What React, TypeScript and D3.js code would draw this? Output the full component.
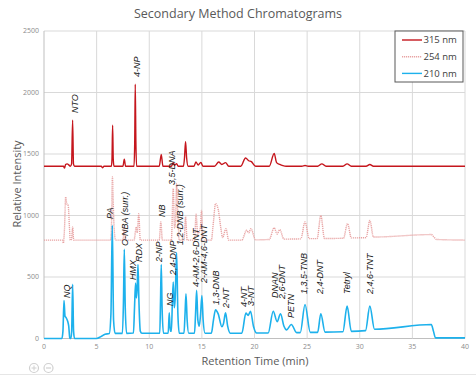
import React from "react";
import * as d3 from "d3";

const chartTitle = "Secondary Method Chromatograms";
const xTitle = "Retention Time (min)";
const yTitle = "Relative Intensity";
const seriesNames = ["315 nm", "254 nm", "210 nm"];
const xTicks = [0, 5, 10, 15, 20, 25, 30, 35, 40];
const yTicks = [0, 500, 1000, 1500, 2000, 2500];

// 315 nm trace: [time (min), intensity]
const trace315: [number, number][] = [
  [0, 1400], [1.85, 1400], [1.95, 1385], [2.05, 1415], [2.2, 1420], [2.35, 1412], [2.5, 1400],
  [2.62, 1420], [2.72, 1775], [2.8, 1420], [2.9, 1400], [5.45, 1400], [5.55, 1388], [5.7, 1400],
  [6.4, 1400], [6.46, 1460], [6.52, 1734], [6.58, 1460], [6.65, 1400], [7.5, 1400], [7.63, 1458],
  [7.75, 1400], [8.55, 1400], [8.62, 1600], [8.67, 2068], [8.73, 1600], [8.8, 1400], [10.95, 1400],
  [11.14, 1496], [11.3, 1400], [12.1, 1400], [12.28, 1430], [12.42, 1408], [12.6, 1422], [12.75, 1400],
  [13.25, 1400], [13.35, 1470], [13.45, 1600], [13.55, 1470], [13.7, 1400], [14.25, 1400],
  [14.43, 1435], [14.65, 1410], [14.9, 1432], [15.1, 1400], [16.2, 1400], [16.6, 1435], [16.9, 1415],
  [17.25, 1430], [17.55, 1400], [18.7, 1400], [19.15, 1468], [19.45, 1445], [19.7, 1438], [20.1, 1400],
  [21.4, 1400], [21.87, 1504], [22.1, 1430], [22.4, 1415], [22.7, 1405], [23.0, 1400], [24.5, 1400],
  [24.8, 1406], [25.1, 1400], [26.0, 1400], [26.4, 1420], [26.8, 1400], [28.4, 1400], [28.8, 1420],
  [29.2, 1400], [30.6, 1400], [30.96, 1415], [31.3, 1400], [40, 1400],
];

// 254 nm trace
const trace254: [number, number][] = [
  [0, 800], [1.75, 800], [1.84, 776], [1.95, 900], [2.06, 1150], [2.15, 1100], [2.3, 1080],
  [2.42, 900], [2.5, 800], [2.62, 810], [2.72, 907], [2.82, 800], [6.35, 800], [6.42, 950],
  [6.5, 1314], [6.58, 1100], [6.66, 900], [6.8, 800], [7.5, 800], [7.63, 907], [7.75, 800],
  [8.55, 800], [8.77, 907], [8.86, 860], [9.0, 1015], [9.15, 800], [10.95, 800], [11.1, 948],
  [11.25, 800], [12.1, 800], [12.28, 1219], [12.4, 900], [12.5, 950], [12.6, 1260], [12.72, 1000],
  [12.85, 800], [13.3, 800], [13.45, 990], [13.6, 800], [14.3, 800], [14.45, 1010], [14.6, 850],
  [14.85, 900], [14.97, 1042], [15.1, 800], [15.9, 800], [16.1, 950], [16.3, 1097], [16.55, 1050],
  [16.8, 900], [16.97, 820], [17.28, 893], [17.55, 800], [18.8, 800], [19.25, 880], [19.45, 860],
  [19.66, 893], [20.1, 802], [21.4, 805], [21.87, 900], [22.15, 850], [22.4, 885], [22.8, 808],
  [24.4, 810], [24.8, 948], [25.2, 812], [25.95, 812], [26.3, 1000], [26.65, 813], [28.45, 815],
  [28.84, 935], [29.2, 818], [30.6, 820], [30.96, 960], [31.3, 825], [36.8, 845], [37.0, 830],
  [37.3, 805], [40, 800],
];

// 210 nm trace
const trace210: [number, number][] = [
  [0, 0], [1.7, 0], [1.8, 60], [1.9, 309], [2.0, 180], [2.1, 170], [2.25, 140], [2.35, 100],
  [2.45, 5], [2.55, 0], [2.63, 60], [2.72, 440], [2.81, 60], [2.9, 0], [5.0, 0], [5.4, 15],
  [5.8, 35], [6.2, 40], [6.36, 200], [6.49, 920], [6.61, 150], [6.75, 42], [7.45, 42], [7.55, 300],
  [7.63, 725], [7.72, 250], [7.85, 42], [8.5, 45], [8.6, 250], [8.7, 450], [8.78, 330], [8.85, 400],
  [8.93, 602], [9.02, 300], [9.15, 60], [9.3, 43], [11.0, 43], [11.07, 300], [11.14, 602],
  [11.22, 250], [11.35, 43], [11.8, 43], [11.9, 209], [12.0, 60], [12.1, 60], [12.2, 300],
  [12.28, 459], [12.38, 250], [12.46, 320], [12.6, 698], [12.72, 200], [12.85, 43], [13.3, 43],
  [13.4, 200], [13.49, 364], [13.6, 150], [13.75, 43], [14.3, 43], [14.4, 200], [14.5, 391],
  [14.62, 150], [14.75, 100], [14.88, 200], [15.0, 350], [15.12, 150], [15.3, 43], [15.9, 43],
  [16.1, 150], [16.3, 233], [16.55, 200], [16.9, 96], [17.05, 120], [17.25, 209], [17.45, 100],
  [17.7, 43], [18.8, 44], [19.18, 206], [19.4, 188], [19.62, 222], [19.9, 100], [20.2, 45],
  [21.3, 45], [21.78, 222], [22.15, 137], [22.47, 201], [22.8, 100], [23.05, 70], [23.5, 114],
  [24.0, 48], [24.35, 48], [24.8, 277], [25.3, 50], [26.0, 50], [26.3, 201], [26.7, 52], [28.4, 55],
  [28.8, 263], [29.2, 58], [30.55, 64], [30.96, 263], [31.4, 75], [36.8, 114], [37.0, 60],
  [37.2, 5], [40, 5],
];

// Peak annotations
const peakNames = [
  "NQ", "NTO", "PA", "O-NBA (surr.)", "HMX", "RDX", "4-NP", "NB", "2-NP", "NG", "3,5-DNA",
  "2,4-DNP", "1,2-DNB (surr.)", "4-AM-2,6-DNT", "2-AM-4,6-DNT", "1,3-DNB", "2-NT", "4-NT",
  "3-NT", "DNAN", "2,6-DNT", "PETN", "1,3,5-TNB", "2,4-DNT", "Tetryl", "2,4,6-TNT",
];
const peakTimes = [
  2.18, 2.94, 6.27, 7.69, 8.45, 9.05, 8.83, 11.2, 10.92, 11.92, 12.16, 12.25, 12.95, 14.42,
  15.17, 16.33, 17.3, 19.02, 19.66, 21.92, 22.62, 23.46, 24.69, 26.21, 28.77, 30.96,
];
const peakLevels = [
  329, 1833, 972, 752, 476, 622, 2126, 988, 622, 264, 1248, 516, 760, 419, 451, 272, 248, 256,
  264, 329, 321, 167, 362, 362, 362, 362,
];

const colors = ["#c5161d", "#e8a3a3", "#1db1ec"];

export default function App() {
  const W = 476;
  const H = 376;
  const x = d3.scaleLinear().domain([0, 40]).range([44, 465]);
  const y = d3.scaleLinear().domain([0, 2500]).range([338.5, 31]);
  const line = d3
    .line<[number, number]>()
    .x((d) => x(d[0]))
    .y((d) => y(d[1]))
    .curve(d3.curveMonotoneX);
  const grid = "#d9d9d9";
  const tickColor = "#8c8c8c";
  const font = "'Open Sans', 'Liberation Sans', sans-serif";

  return (
    <svg
      width={W}
      height={H}
      style={{ position: "absolute", left: 0, top: 0, background: "#fff" }}
      fontFamily={font}
    >
      <rect x={0} y={0} width={W} height={H} fill="#fff" />
      <defs>
        <clipPath id="plot">
          <rect x={44} y={20} width={423} height={325} />
        </clipPath>
      </defs>
      <text x={238} y={18} textAnchor="middle" fontSize={12.5} fill="#595959">
        {chartTitle}
      </text>
      {/* grid */}
      {yTicks.map((t) => (
        <line key={"gy" + t} x1={44} x2={465} y1={y(t)} y2={y(t)} stroke={t === 0 ? "#bfbfbf" : grid} strokeWidth={1} />
      ))}
      {xTicks.map((t) => (
        <line key={"gx" + t} x1={x(t)} x2={x(t)} y1={y(2500)} y2={y(0)} stroke={t === 0 ? "#bfbfbf" : grid} strokeWidth={1} />
      ))}
      {yTicks.map((t) => (
        <text key={"ty" + t} x={39} y={y(t)} dy="0.35em" textAnchor="end" fontSize={7} fill={tickColor}>
          {t}
        </text>
      ))}
      {xTicks.map((t) => (
        <text key={"tx" + t} x={x(t)} y={349} textAnchor="middle" fontSize={7} fill={tickColor}>
          {t}
        </text>
      ))}
      <text x={255} y={365} textAnchor="middle" fontSize={11} fill="#595959">
        {xTitle}
      </text>
      <text transform={`translate(17,184) rotate(-90)`} textAnchor="middle" dy="0.35em" fontSize={11} fill="#595959">
        {yTitle}
      </text>
      {/* traces */}
      <g clipPath="url(#plot)">
        <path d={line(trace315) || ""} fill="none" stroke={colors[0]} strokeWidth={1.4} />
        <path d={line(trace254) || ""} fill="none" stroke={colors[1]} strokeWidth={1.4} strokeDasharray="1.2 0.8" />
        <path d={line(trace210) || ""} fill="none" stroke={colors[2]} strokeWidth={1.6} />
      </g>
      {/* peak labels */}
      {peakNames.map((n, i) => (
        <text
          key={"pl" + i}
          transform={`translate(${x(peakTimes[i])},${y(peakLevels[i])}) rotate(-90)`}
          dy="0.35em"
          textAnchor="start"
          fontSize={9}
          fontStyle="italic"
          fontFamily="'Liberation Sans', Arial, sans-serif"
          fill="#222"
        >
          {n}
        </text>
      ))}
      {/* legend */}
      <rect x={395} y={31} width={68} height={51} fill="#fff" stroke="#595959" strokeWidth={1} />
      {seriesNames.map((s, i) => (
        <g key={"lg" + i}>
          <line
            x1={402}
            x2={422}
            y1={40 + i * 16.7}
            y2={40 + i * 16.7}
            stroke={colors[i]}
            strokeWidth={1.4}
            strokeDasharray={i === 1 ? "1.2 0.8" : undefined}
          />
          <text x={423.5} y={40 + i * 16.7} dy="0.35em" fontSize={9.5} fill="#404040">
            {s}
          </text>
        </g>
      ))}
      {/* zoom controls */}
      <circle cx={34} cy={368} r={4.5} fill="none" stroke="#d0d0d0" strokeWidth={1.2} />
      <line x1={31.5} x2={36.5} y1={368} y2={368} stroke="#d0d0d0" strokeWidth={1} />
      <line x1={34} x2={34} y1={365.5} y2={370.5} stroke="#d0d0d0" strokeWidth={1} />
      <circle cx={48.5} cy={368} r={4.5} fill="none" stroke="#d0d0d0" strokeWidth={1.2} />
      <line x1={46} x2={51} y1={368} y2={368} stroke="#d0d0d0" strokeWidth={1.2} />
      <line x1={0} x2={W} y1={374.5} y2={374.5} stroke="#e6e6e6" strokeWidth={1} />
    </svg>
  );
}
